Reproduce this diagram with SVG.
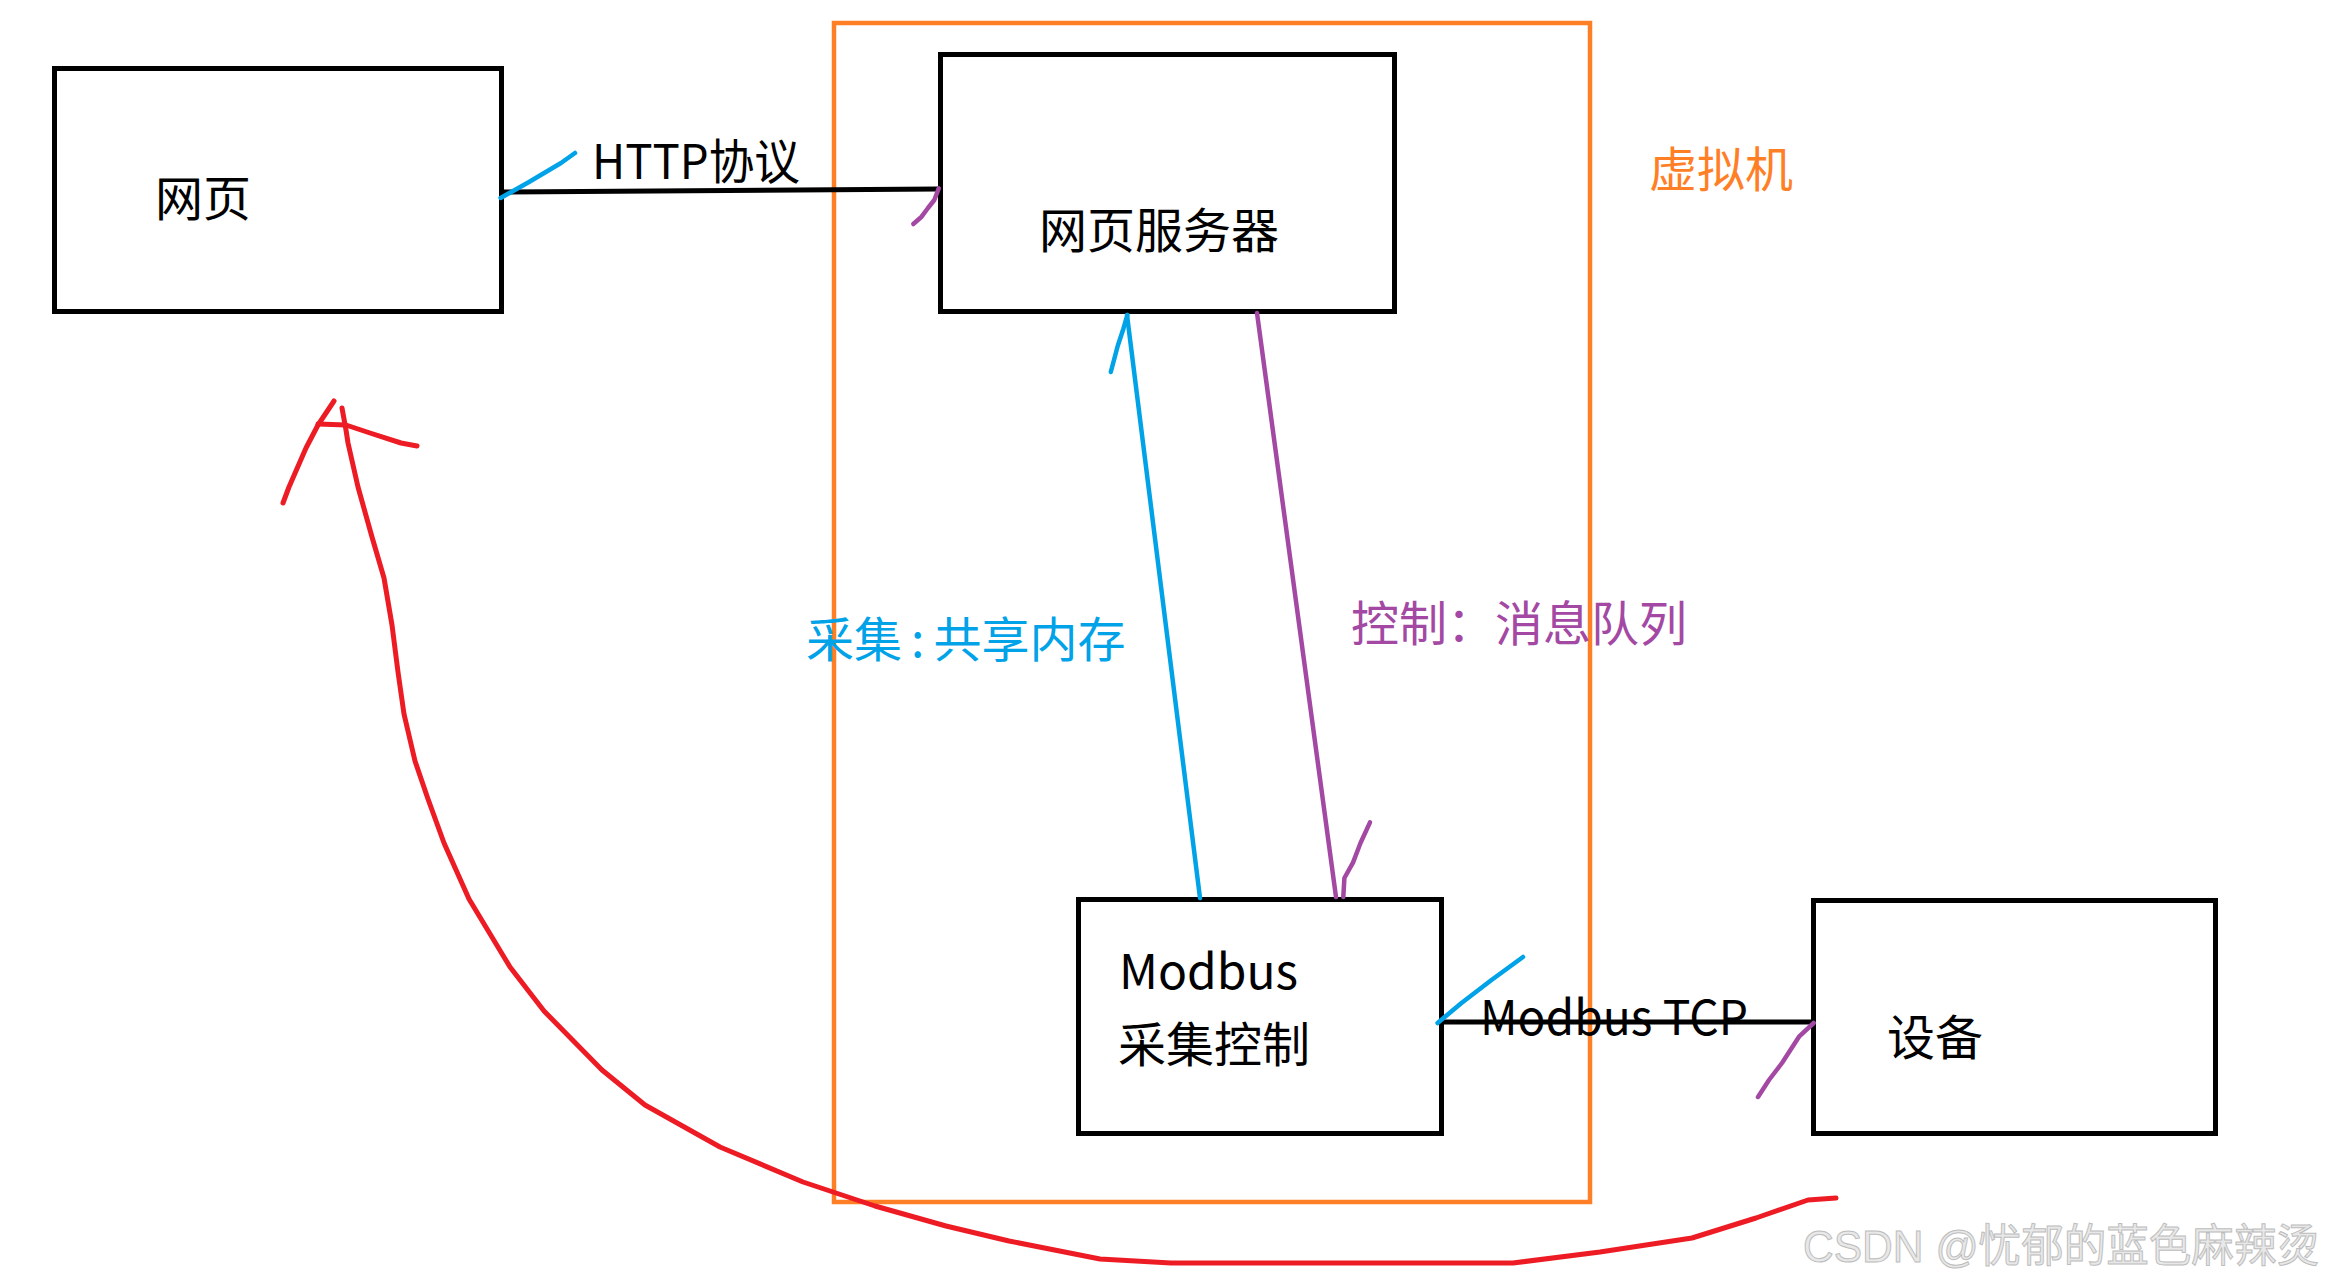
<svg xmlns="http://www.w3.org/2000/svg" width="2340" height="1284" viewBox="0 0 2340 1284">
<style>
.box{fill:none;stroke:#000;stroke-width:5}
.t{font-family:"Noto Sans CJK SC","Noto Sans",sans-serif;font-size:48px;fill:#000}
.wire{fill:none;stroke:#000;stroke-width:5;stroke-linecap:butt}
.blue{fill:none;stroke:#00A2E8;stroke-width:4.5;stroke-linecap:round;stroke-linejoin:round}
.purple{fill:none;stroke:#A349A4;stroke-width:4.5;stroke-linecap:round;stroke-linejoin:round}
.red{fill:none;stroke:#ED1C24;stroke-width:5;stroke-linecap:round;stroke-linejoin:round}
</style>
<rect width="2340" height="1284" fill="#fff"/>
<g id="vm">
<rect x="834" y="23" width="756" height="1179" fill="none" stroke="#FF7F27" stroke-width="4.5"/>
<text class="t" x="1649" y="186.5" style="fill:#FF7F27">虚拟机</text>
</g>
<g id="webpage">
<rect class="box" x="54.5" y="68.5" width="447" height="243"/>
<text class="t" x="155" y="215.5">网页</text>
</g>
<g id="webserver">
<rect class="box" x="940.5" y="54.5" width="454" height="257"/>
<text class="t" x="1039" y="247.5">网页服务器</text>
</g>
<g id="modbus">
<rect class="box" x="1078.5" y="899.5" width="363" height="234"/>
<text class="t" x="1119" y="989">Modbus</text>
<text class="t" x="1118" y="1061.5">采集控制</text>
</g>
<g id="device">
<rect class="box" x="1813.5" y="900.5" width="402" height="233"/>
<text class="t" x="1887" y="1054.5">设备</text>
</g>
<g id="connectors">
<line class="wire" x1="503" y1="192" x2="939" y2="189"/>
<polyline class="blue" points="500.6,198 529,182 561,163 575,153"/>
<polyline class="purple" points="938.8,188.3 934.3,200 928,208 921.6,216.7 913.3,224"/>
<text class="t" x="592" y="179" textLength="208" lengthAdjust="spacingAndGlyphs">HTTP协议</text>
<line class="blue" x1="1127" y1="315" x2="1200" y2="898"/>
<polyline class="blue" points="1127.4,315 1123.4,328.7 1117.7,346 1110.8,372"/>
<text class="t" x="806" y="656.5" style="fill:#00A2E8">采集<tspan dx="9">:</tspan><tspan dx="9">共享内存</tspan></text>
<line class="purple" x1="1257" y1="313" x2="1336" y2="897"/>
<polyline class="purple" points="1343.3,897 1344.4,878 1353,862.6 1360.5,843 1370,822.4"/>
<text class="t" x="1351" y="640.5" style="fill:#A349A4">控制：消息队列</text>
<line class="wire" x1="1439" y1="1022" x2="1814" y2="1022"/>
<polyline class="blue" points="1437.6,1023 1461.5,1003 1491.5,980 1523,957"/>
<polyline class="purple" points="1813.7,1023 1799,1036.7 1782,1063 1769,1080 1758,1097"/>
<text class="t" x="1480" y="1035" textLength="268" lengthAdjust="spacingAndGlyphs">Modbus TCP</text>
<polyline class="red" points="342,408 346,430 348,443 358,487 372,537 384,578 392,625 398,672 404,714 415,761 428,799 444,843 469,899 510,967 544,1011 602,1070 645,1105 720,1147 803,1182 875,1206 946,1226 1009,1241 1100,1259 1171,1263 1513,1263 1600,1252 1692,1238 1756,1218 1808,1200 1836,1198"/>
<polyline class="red" points="334,401 318,425 306,448 289,487 283,503"/>
<polyline class="red" points="318,424 346,425 370,433 401,443 417,446"/>
</g>
<text x="1803" y="1262" textLength="516" lengthAdjust="spacingAndGlyphs" style="font-family:'Liberation Sans','Noto Sans CJK SC',sans-serif;font-size:45px;fill:#e8e8e8;stroke:#bdbdbd;stroke-width:1">CSDN @忧郁的蓝色麻辣烫</text>
</svg>
